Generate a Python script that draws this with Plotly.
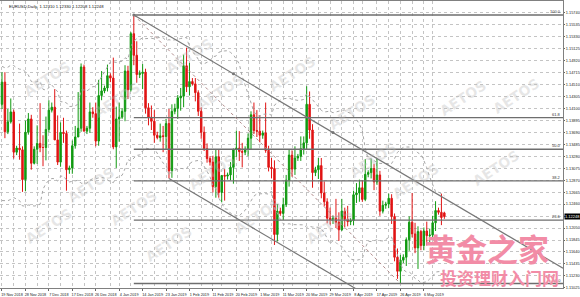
import plotly.graph_objects as go
import pandas as pd

# ---------------- data ----------------
dates = [
    "2018-11-19","2018-11-20","2018-11-21","2018-11-22","2018-11-23",
    "2018-11-25","2018-11-26","2018-11-27","2018-11-28","2018-11-29","2018-11-30",
    "2018-12-02","2018-12-03","2018-12-04","2018-12-05","2018-12-06","2018-12-07",
    "2018-12-09","2018-12-10","2018-12-11","2018-12-12","2018-12-13","2018-12-14",
    "2018-12-16","2018-12-17","2018-12-18","2018-12-19","2018-12-20","2018-12-21",
    "2018-12-23","2018-12-24","2018-12-25","2018-12-26","2018-12-27","2018-12-28",
    "2018-12-30","2018-12-31","2019-01-01","2019-01-02","2019-01-03","2019-01-04",
    "2019-01-06","2019-01-07","2019-01-08","2019-01-09","2019-01-10","2019-01-11",
    "2019-01-13","2019-01-14","2019-01-15","2019-01-16","2019-01-17","2019-01-18",
    "2019-01-20","2019-01-21","2019-01-22","2019-01-23","2019-01-24","2019-01-25",
    "2019-01-27","2019-01-28","2019-01-29","2019-01-30","2019-01-31","2019-02-01",
    "2019-02-03","2019-02-04","2019-02-05","2019-02-06","2019-02-07","2019-02-08",
    "2019-02-10","2019-02-11","2019-02-12","2019-02-13","2019-02-14","2019-02-15",
    "2019-02-17","2019-02-18","2019-02-19","2019-02-20","2019-02-21","2019-02-22",
    "2019-02-24","2019-02-25","2019-02-26","2019-02-27","2019-02-28","2019-03-01",
    "2019-03-03","2019-03-04","2019-03-05","2019-03-06","2019-03-07","2019-03-08",
    "2019-03-10","2019-03-11","2019-03-12","2019-03-13","2019-03-14","2019-03-15",
    "2019-03-17","2019-03-18","2019-03-19","2019-03-20","2019-03-21","2019-03-22",
    "2019-03-24","2019-03-25","2019-03-26","2019-03-27","2019-03-28","2019-03-29",
    "2019-03-31","2019-04-01","2019-04-02","2019-04-03","2019-04-04","2019-04-05",
    "2019-04-07","2019-04-08","2019-04-09","2019-04-10","2019-04-11","2019-04-12",
    "2019-04-14","2019-04-15","2019-04-16","2019-04-17","2019-04-18","2019-04-19",
    "2019-04-21","2019-04-22","2019-04-23","2019-04-24","2019-04-25","2019-04-26",
    "2019-04-28","2019-04-29","2019-04-30","2019-05-01","2019-05-02","2019-05-03",
    "2019-05-05","2019-05-06","2019-05-07","2019-05-08","2019-05-09","2019-05-10",
    "2019-05-12","2019-05-13","2019-05-14",
]

opens = [
    1.1417, 1.1455, 1.1370, 1.1387, 1.1404,
    1.1335, 1.1342, 1.1339, 1.1288, 1.1369, 1.1392,
    1.1316, 1.1340, 1.1350, 1.1343, 1.1343, 1.1374,
    1.1407, 1.1412, 1.1356, 1.1318, 1.1369, 1.1367,
    1.1305, 1.1308, 1.1346, 1.1361, 1.1376, 1.1481,
    1.1371, 1.1376, 1.1404, 1.1401, 1.1354, 1.1432,
    1.1440, 1.1445, 1.1466, 1.1462, 1.1344, 1.1392,
    1.1395, 1.1405, 1.1474, 1.1442, 1.1538, 1.1501,
    1.1468, 1.1470, 1.1472, 1.1411, 1.1395, 1.1388,
    1.1364, 1.1360, 1.1363, 1.1362, 1.1384, 1.1303,
    1.1405, 1.1410, 1.1428, 1.1431, 1.1483, 1.1447,
    1.1456, 1.1452, 1.1437, 1.1405, 1.1369, 1.1341,
    1.1324, 1.1318, 1.1276, 1.1327, 1.1266, 1.1295,
    1.1294, 1.1296, 1.1309, 1.1340, 1.1342, 1.1336,
    1.1335, 1.1340, 1.1359, 1.1399, 1.1372, 1.1371,
    1.1364, 1.1368, 1.1338, 1.1309, 1.1307, 1.1194,
    1.1234, 1.1230, 1.1245, 1.1287, 1.1330, 1.1306,
    1.1325, 1.1328, 1.1341, 1.1351, 1.1417, 1.1373,
    1.1300, 1.1305, 1.1312, 1.1265, 1.1250, 1.1222,
    1.1218, 1.1222, 1.1215, 1.1202, 1.1234, 1.1220,
    1.1216, 1.1218, 1.1262, 1.1265, 1.1274, 1.1254,
    1.1297, 1.1300, 1.1307, 1.1284, 1.1296, 1.1234,
    1.1244, 1.1246, 1.1256, 1.1225, 1.1155, 1.1131,
    1.1150, 1.1155, 1.1185, 1.1215, 1.1195, 1.1171,
    1.1199, 1.1175, 1.1200, 1.1192, 1.1193, 1.1214,
    1.1235, 1.1232, 1.12310,
]

highs = [
    1.1472, 1.1472, 1.1409, 1.1427, 1.1408,
    1.1346, 1.1384, 1.1345, 1.1389, 1.1402, 1.1399,
    1.1345, 1.1381, 1.1419, 1.1364, 1.1396, 1.1424,
    1.1420, 1.1443, 1.1398, 1.1386, 1.1394, 1.1372,
    1.1312, 1.1355, 1.1380, 1.1438, 1.1487, 1.1485,
    1.1380, 1.1420, 1.1412, 1.1420, 1.1459, 1.1474,
    1.1449, 1.1485, 1.1470, 1.1497, 1.1413, 1.1420,
    1.1410, 1.1484, 1.1483, 1.1541, 1.1570, 1.1525,
    1.1475, 1.1486, 1.1478, 1.1419, 1.1415, 1.1407,
    1.1370, 1.1384, 1.1380, 1.1392, 1.1409, 1.1417,
    1.1418, 1.1433, 1.1445, 1.1502, 1.1514, 1.1488,
    1.1462, 1.1462, 1.1441, 1.1412, 1.1379, 1.1350,
    1.1328, 1.1329, 1.1340, 1.1340, 1.1296, 1.1306,
    1.1300, 1.1318, 1.1341, 1.1372, 1.1371, 1.1351,
    1.1345, 1.1367, 1.1405, 1.1420, 1.1407, 1.1398,
    1.1372, 1.1420, 1.1346, 1.1325, 1.1321, 1.1246,
    1.1240, 1.1257, 1.1296, 1.1339, 1.1338, 1.1345,
    1.1332, 1.1362, 1.1362, 1.1448, 1.1439, 1.1383,
    1.1310, 1.1325, 1.1325, 1.1285, 1.1256, 1.1240,
    1.1226, 1.1255, 1.1232, 1.1255, 1.1240, 1.1243,
    1.1222, 1.1269, 1.1282, 1.1288, 1.1287, 1.1323,
    1.1304, 1.1324, 1.1315, 1.1324, 1.1303, 1.1252,
    1.1250, 1.1264, 1.1263, 1.1230, 1.1170, 1.1159,
    1.1160, 1.1189, 1.1225, 1.1265, 1.1214, 1.1208,
    1.1202, 1.1206, 1.1216, 1.1204, 1.1226, 1.1251,
    1.1240, 1.1264, 1.12330,
]

lows = [
    1.1409, 1.1359, 1.1366, 1.1384, 1.1324,
    1.1330, 1.1322, 1.1267, 1.1268, 1.1365, 1.1305,
    1.1314, 1.1315, 1.1335, 1.1311, 1.1321, 1.1369,
    1.1403, 1.1356, 1.1313, 1.1310, 1.1351, 1.1269,
    1.1298, 1.1298, 1.1341, 1.1361, 1.1370, 1.1374,
    1.1366, 1.1368, 1.1394, 1.1345, 1.1346, 1.1424,
    1.1436, 1.1439, 1.1455, 1.1340, 1.1308, 1.1353,
    1.1392, 1.1388, 1.1426, 1.1439, 1.1484, 1.1454,
    1.1462, 1.1443, 1.1401, 1.1381, 1.1373, 1.1351,
    1.1357, 1.1353, 1.1335, 1.1339, 1.1290, 1.1291,
    1.1400, 1.1392, 1.1406, 1.1412, 1.1438, 1.1432,
    1.1449, 1.1422, 1.1397, 1.1358, 1.1337, 1.1317,
    1.1312, 1.1266, 1.1257, 1.1257, 1.1249, 1.1252,
    1.1288, 1.1287, 1.1281, 1.1327, 1.1320, 1.1309,
    1.1330, 1.1328, 1.1340, 1.1366, 1.1361, 1.1352,
    1.1358, 1.1334, 1.1302, 1.1290, 1.1176, 1.1182,
    1.1226, 1.1219, 1.1241, 1.1276, 1.1293, 1.1296,
    1.1320, 1.1320, 1.1331, 1.1339, 1.1358, 1.1274,
    1.1294, 1.1289, 1.1256, 1.1242, 1.1213, 1.1211,
    1.1212, 1.1205, 1.1183, 1.1200, 1.1206, 1.1208,
    1.1210, 1.1210, 1.1248, 1.1250, 1.1250, 1.1251,
    1.1292, 1.1290, 1.1270, 1.1279, 1.1226, 1.1230,
    1.1238, 1.1239, 1.1212, 1.1148, 1.1118, 1.1110,
    1.1145, 1.1140, 1.1166, 1.1189, 1.1162, 1.1135,
    1.1167, 1.1167, 1.1175, 1.1177, 1.1186, 1.1200,
    1.1228, 1.1210, 1.12208,
]

closes = [
    1.1455, 1.1370, 1.1387, 1.1404, 1.1335,
    1.1342, 1.1339, 1.1288, 1.1369, 1.1392, 1.1316,
    1.1340, 1.1350, 1.1343, 1.1343, 1.1374, 1.1407,
    1.1412, 1.1356, 1.1318, 1.1369, 1.1367, 1.1305,
    1.1308, 1.1346, 1.1361, 1.1376, 1.1481, 1.1371,
    1.1376, 1.1404, 1.1401, 1.1354, 1.1432, 1.1440,
    1.1445, 1.1466, 1.1462, 1.1344, 1.1392, 1.1395,
    1.1405, 1.1474, 1.1442, 1.1538, 1.1501, 1.1468,
    1.1470, 1.1472, 1.1411, 1.1395, 1.1388, 1.1364,
    1.1360, 1.1363, 1.1362, 1.1384, 1.1303, 1.1405,
    1.1410, 1.1428, 1.1431, 1.1483, 1.1447, 1.1456,
    1.1452, 1.1437, 1.1405, 1.1369, 1.1341, 1.1324,
    1.1318, 1.1276, 1.1327, 1.1266, 1.1295, 1.1294,
    1.1296, 1.1309, 1.1340, 1.1342, 1.1336, 1.1335,
    1.1340, 1.1359, 1.1399, 1.1372, 1.1371, 1.1364,
    1.1368, 1.1338, 1.1309, 1.1307, 1.1194, 1.1234,
    1.1230, 1.1245, 1.1287, 1.1330, 1.1306, 1.1325,
    1.1328, 1.1341, 1.1351, 1.1417, 1.1373, 1.1300,
    1.1305, 1.1312, 1.1265, 1.1250, 1.1222, 1.1218,
    1.1222, 1.1215, 1.1202, 1.1234, 1.1220, 1.1216,
    1.1218, 1.1262, 1.1265, 1.1274, 1.1254, 1.1297,
    1.1300, 1.1307, 1.1284, 1.1296, 1.1234, 1.1244,
    1.1246, 1.1256, 1.1225, 1.1155, 1.1131, 1.1150,
    1.1155, 1.1185, 1.1215, 1.1195, 1.1171, 1.1199,
    1.1175, 1.1200, 1.1192, 1.1193, 1.1214, 1.1235,
    1.1232, 1.1223, 1.12248,
]

# closes of the 19 bars before the first visible bar (Bollinger warm-up)
prior_closes = [1.1400, 1.1376, 1.1344, 1.1312, 1.1408, 1.1387, 1.1385, 1.1408,
                1.1430, 1.1436, 1.1360, 1.1335, 1.1320, 1.1217, 1.1290, 1.1314,
                1.1331, 1.1417, 1.1417]

x_label_dates = ["2018-11-19","2018-11-28","2018-12-07","2018-12-17","2018-12-26",
                 "2019-01-04","2019-01-14","2019-01-23","2019-02-01","2019-02-11",
                 "2019-02-20","2019-03-01","2019-03-11","2019-03-20","2019-03-29",
                 "2019-04-08","2019-04-17","2019-04-26","2019-05-06"]
x_labels = ["19 Nov 2018","28 Nov 2018","7 Dec 2018","17 Dec 2018","26 Dec 2018",
            "4 Jan 2019","14 Jan 2019","23 Jan 2019","1 Feb 2019","11 Feb 2019",
            "20 Feb 2019","1 Mar 2019","11 Mar 2019","20 Mar 2019","29 Mar 2019",
            "8 Apr 2019","17 Apr 2019","26 Apr 2019","6 May 2019"]
grid_mid_dates = ["2018-11-23","2018-12-03","2018-12-12","2018-12-21","2019-01-01",
                  "2019-01-09","2019-01-18","2019-01-28","2019-02-06","2019-02-14",
                  "2019-02-25","2019-03-06","2019-03-14","2019-03-25","2019-04-03",
                  "2019-04-11","2019-04-22","2019-05-01","2019-05-09"]

y_tick_labels = ["1.15740","1.15535","1.15330","1.15125","1.14920","1.14715","1.14510",
                 "1.14305","1.14100","1.13895","1.13690","1.13485","1.13280","1.13075",
                 "1.12870","1.12665","1.12460","1.12255","1.12050","1.11845","1.11640",
                 "1.11435","1.11230","1.11025"]

title_text = "EURUSD,Daily  1.12310 1.12330 1.12208 1.12248"
last_price = 1.12248

fib_high = ("2019-01-10", 1.15700)
fib_low = ("2019-04-26", 1.11100)
fib_levels = [0.0, 23.6, 38.2, 50.0, 61.8, 100.0]

channel_upper = [("2019-01-10", 1.15700), ("2019-03-31", 1.13686)]
channel_lower_start = ("2019-01-24", 1.12900)
channel_marks = ["2019-01-10", "2019-02-19", "2019-03-31"]

watermarks = [(18, 55), (88, 100), (160, 32), (220, 68), (292, 50), (352, 112),
              (402, 160), (445, 205), (492, 98), (545, 72), (62, 185), (105, 232),
              (212, 172), (258, 240), (140, 268), (525, 168), (330, 250), (20, 250)]

# ---------------- derived ----------------
X_MIN, X_MAX = -0.68, 191.5
Y_MIN, Y_MAX = 1.11023, 1.15940
PLOT_W, PLOT_H = 563.0, 287.0
xi = {d: i for i, d in enumerate(dates)}

all_close = pd.Series(prior_closes + closes)
mid = all_close.rolling(20).mean()
sd = all_close.rolling(20).std(ddof=0)
bb_up = list((mid + 2 * sd).iloc[len(prior_closes):])
bb_dn = list((mid - 2 * sd).iloc[len(prior_closes):])

fig = go.Figure()

for band in (bb_up, bb_dn):
    fig.add_trace(go.Scatter(x=dates, y=band, mode="lines",
                             line=dict(color="#a6a6a6", width=1, dash="dot"),
                             hoverinfo="skip", showlegend=False))

fig.add_trace(go.Candlestick(
    x=dates, open=opens, high=highs, low=lows, close=closes,
    increasing=dict(line=dict(color="#119a11", width=1), fillcolor="#119a11"),
    decreasing=dict(line=dict(color="#e01414", width=1), fillcolor="#e01414"),
    whiskerwidth=0, showlegend=False))

shapes = []
annotations = []
# Fibonacci levels
hi_i, lo_i = xi[fib_high[0]], xi[fib_low[0]]
for lv in fib_levels:
    p = fib_low[1] + lv / 100.0 * (fib_high[1] - fib_low[1])
    shapes.append(dict(type="line", xref="x", yref="y", x0=hi_i, x1=X_MAX, y0=p, y1=p,
                       line=dict(color="#6e6e6e", width=1.3)))
    annotations.append(dict(x=X_MAX, y=p, xref="x", yref="y", text=f"{lv:.1f}",
                            showarrow=False, xanchor="right", yanchor="bottom",
                            font=dict(size=4, color="#333333"), yshift=-1))
shapes.append(dict(type="line", xref="x", yref="y", x0=hi_i, x1=lo_i,
                   y0=fib_high[1], y1=fib_low[1],
                   line=dict(color="#b08a8a", width=1, dash="dot")))

# equidistant channel
(d1, p1), (d2, p2) = channel_upper
i1, i2 = xi[d1], xi[d2]
slope = (p2 - p1) / (i2 - i1)
shapes.append(dict(type="line", xref="x", yref="y", x0=i1, x1=X_MAX, y0=p1,
                   y1=p1 + slope * (X_MAX - i1), line=dict(color="#777777", width=1.2)))
il, pl = xi[channel_lower_start[0]], channel_lower_start[1]
shapes.append(dict(type="line", xref="x", yref="y", x0=il, x1=X_MAX, y0=pl,
                   y1=pl + slope * (X_MAX - il), line=dict(color="#777777", width=1.2)))

fig.add_trace(go.Scatter(x=channel_marks,
                         y=[p1 + slope * (xi[d] - i1) for d in channel_marks],
                         mode="markers", marker=dict(size=3, color="#777777"),
                         hoverinfo="skip", showlegend=False))

# watermarks
for (px, py) in watermarks:
    annotations.append(dict(x=px / PLOT_W, y=1 - (py - 1) / PLOT_H, xref="paper", yref="paper",
                            text="<b>AETOS</b>", showarrow=False, textangle=-33,
                            font=dict(family="DejaVu Sans", size=14,
                                      color="rgba(185,185,185,0.35)")))

annotations.append(dict(x=0.012, y=0.995, xref="paper", yref="paper", text=title_text,
                        showarrow=False, xanchor="left", yanchor="top",
                        font=dict(size=4.2, color="#111111")))
annotations.append(dict(x=1.0, y=last_price, xref="paper", yref="y", text="1.12248",
                        showarrow=False, xanchor="left", yanchor="middle",
                        bgcolor="#000000", borderpad=0, xshift=1,
                        font=dict(size=4, color="#ffffff")))
annotations.append(dict(x=423 / PLOT_W, y=1 - (223 - 1) / PLOT_H, xref="paper", yref="paper",
                        text="<b>黄金之家</b>", showarrow=False,
                        xanchor="left", yanchor="top",
                        font=dict(family="Noto Sans CJK SC", size=31, color="#f28ca6")))
annotations.append(dict(x=438 / PLOT_W, y=1 - (263 - 1) / PLOT_H, xref="paper", yref="paper",
                        text="<b>投资理财入门网</b>", showarrow=False,
                        xanchor="left", yanchor="top",
                        font=dict(family="Noto Sans CJK SC", size=17, color="#f28ca6")))

fig.update_layout(
    width=580, height=297,
    margin=dict(l=0, r=17, t=1, b=9, autoexpand=False),
    paper_bgcolor="#ffffff", plot_bgcolor="#ffffff",
    font=dict(family="Liberation Sans", size=4, color="#222222"),
    shapes=shapes, annotations=annotations, showlegend=False,
    xaxis=dict(type="category", categoryorder="array", categoryarray=dates,
               range=[X_MIN, X_MAX], rangeslider=dict(visible=False),
               tickmode="array", tickvals=x_label_dates, ticktext=x_labels,
               tickangle=0, ticks="outside", ticklen=2, tickcolor="#666666",
               ticklabelshift=10, ticklabelstandoff=0,
               tickfont=dict(size=3.8, color="#222222"),
               showgrid=True, gridcolor="#c4c4c4", griddash="dot", gridwidth=1,
               minor=dict(tickmode="array", tickvals=grid_mid_dates, showgrid=True,
                          gridcolor="#c4c4c4", griddash="dot", gridwidth=1),
               showline=True, linecolor="#808080", linewidth=1, mirror=True,
               zeroline=False, fixedrange=True),
    yaxis=dict(side="right", range=[Y_MIN, Y_MAX],
               tickmode="array", tickvals=[float(t) for t in y_tick_labels],
               ticktext=y_tick_labels, ticks="outside", ticklen=1, tickcolor="#666666",
               tickfont=dict(size=3.9, color="#222222"), ticklabelstandoff=0,
               showgrid=True, gridcolor="#c4c4c4", griddash="dot", gridwidth=1,
               showline=True, linecolor="#808080", linewidth=1, mirror=True,
               zeroline=False, fixedrange=True),
)

fig.write_html("out.html")
